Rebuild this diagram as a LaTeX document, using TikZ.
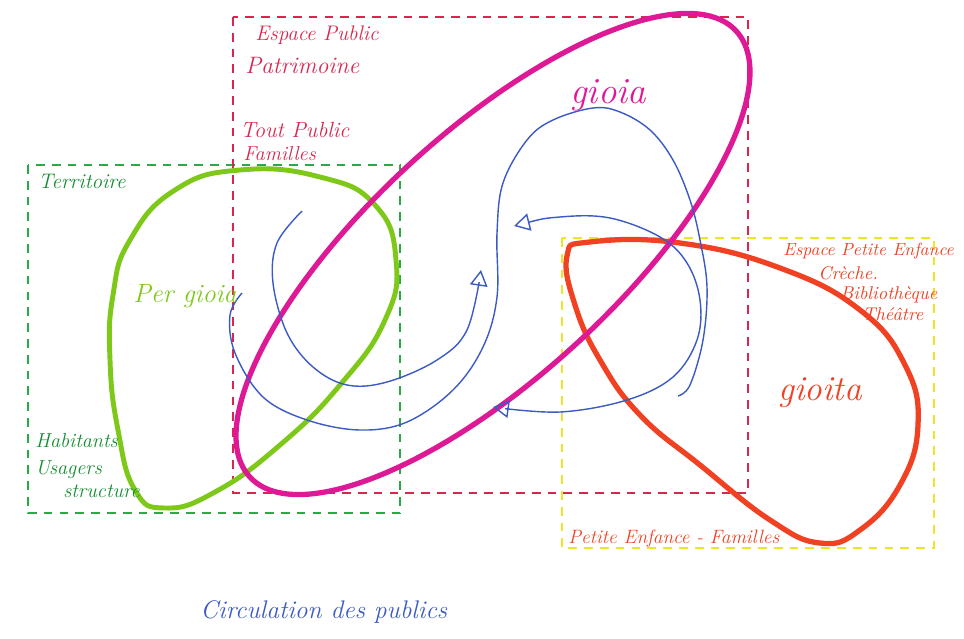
\documentclass[tikz,border=0pt]{standalone}
\usetikzlibrary{arrows.meta}

\definecolor{cramoisi}{RGB}{218,38,78}
\definecolor{vertcadre}{RGB}{40,170,70}
\definecolor{vertfonce}{RGB}{20,140,50}
\definecolor{vertclair}{RGB}{125,200,25}
\definecolor{jaune}{RGB}{240,228,40}
\definecolor{magenta}{RGB}{222,25,150}
\definecolor{rouge}{RGB}{240,65,35}
\definecolor{bleu}{RGB}{60,90,195}

\tikzset{
	cadre/.style={dash pattern=on 5pt off 4pt, line width=0.6pt},
	blob/.style={line width=#1, line join=round},
	fleche/.style={bleu, line width=0.8pt, arrows={-Triangle[open, length=9pt, width=10pt]}},
	txt/.style={anchor=base west, inner sep=0pt, font=\itshape}
}

\begin{document}
\begin{tikzpicture}[x=0.02cm, y=-0.02cm]

\useasboundingbox (0,0) rectangle (964,639);

% Cadres
\draw[cadre, vertcadre] (28,165) rectangle (400,513);
\draw[cadre, cramoisi] (233,17) rectangle (748,493);
\draw[cadre, jaune] (562,238) rectangle (934,548);

% Per gioia
\draw[blob=2.8pt, vertclair] plot[smooth cycle, tension=0.8] coordinates {
	(130,240) (175,190) (240,170) (320,177) (375,205) (396,260) (385,320)
	(340,385) (280,445) (215,492) (165,508) (135,490) (118,430) (110,360)
	(113,295)};

% gioita
\draw[blob=3pt, rouge] plot[smooth cycle, tension=0.75] coordinates {
	(567,256) (590,242) (680,243) (780,268) (860,310) (905,365) (918,425)
	(900,485) (860,530) (820,543) (770,520) (700,465) (640,415) (600,360)
	(575,305)};

% gioia
\begin{scope}[shift={(493,254)}, rotate=42.5]
	\draw[blob=3pt, magenta] (0,0) ellipse [x radius=6.6cm, y radius=2.45cm];
\end{scope}

% Circulation
\draw[fleche] plot[smooth, tension=0.6] coordinates {
	(302,211) (277,243) (273,283) (287,333) (313,367) (347,385) (387,382)
	(437,360) (467,330) (481,270)};
\draw[bleu, line width=0.8pt] plot[smooth, tension=0.6] coordinates {
	(242,293) (230,315) (235,353) (263,397) (307,420) (360,430) (407,422)
	(453,390) (483,347) (497,297) (497,233) (503,183) (527,140) (553,120)
	(593,108) (620,112) (650,130) (673,160) (690,200) (700,240) (707,287)
	(703,340) (690,385) (678,396)};
\draw[fleche, arrows={Triangle[open, length=9pt, width=10pt]-Triangle[open, length=9pt, width=10pt]}]
	plot[smooth, tension=0.6] coordinates {
	(514,226) (560,217) (610,218) (660,237) (687,263) (700,300) (697,340)
	(673,377) (627,400) (560,412) (493,407)};

% Textes
\node[txt, cramoisi, font=\itshape\fontsize{12}{14}\selectfont] (espace) at (255,40) {Espace Public};
\node[txt, cramoisi, font=\itshape\fontsize{13.5}{16}\selectfont] (patrimoine) at (245,73) {Patrimoine};
\node[txt, cramoisi, font=\itshape\fontsize{12.5}{15}\selectfont] (toutpublic) at (240,137) {Tout Public};
\node[txt, cramoisi, font=\itshape\fontsize{11.5}{14}\selectfont] (familles) at (243,160) {Familles};

\node[txt, vertfonce, font=\itshape\fontsize{12}{14}\selectfont] (territoire) at (38,188) {Territoire};
\node[txt, vertclair, font=\itshape\fontsize{15}{18}\selectfont] (pergioia) at (133,302) {Per gioia};
\node[txt, vertfonce, font=\itshape\fontsize{11.5}{14}\selectfont] (habitants) at (35,447) {Habitants};
\node[txt, vertfonce, font=\itshape\fontsize{11.5}{14}\selectfont] (usagers) at (35,474) {Usagers};
\node[txt, vertfonce, font=\itshape\fontsize{11.5}{14}\selectfont] (structure) at (63,497) {structure};

\node[txt, magenta, font=\itshape\fontsize{21}{24}\selectfont] (gioia) at (570,103) {gioia};

\node[txt, rouge, font=\itshape\fontsize{10}{12}\selectfont] (petiteenf) at (783,255) {Espace Petite Enfance};
\node[txt, rouge, font=\itshape\fontsize{10.5}{12}\selectfont] (creche) at (818,279) {Crèche.};
\node[txt, rouge, font=\itshape\fontsize{10.5}{12}\selectfont] (biblio) at (840,299) {Bibliothèque};
\node[txt, rouge, font=\itshape\fontsize{10.5}{12}\selectfont] (theatre) at (862,320) {Théâtre};
\node[txt, rouge, font=\itshape\fontsize{20}{24}\selectfont] (gioita) at (778,400) {gioita};
\node[txt, rouge, font=\itshape\fontsize{11}{13}\selectfont] (pefam) at (568,543) {Petite Enfance - Familles};

\node[txt, bleu, font=\itshape\fontsize{14.5}{17}\selectfont] (circulation) at (200,618) {Circulation des publics};

\end{tikzpicture}
\end{document}
